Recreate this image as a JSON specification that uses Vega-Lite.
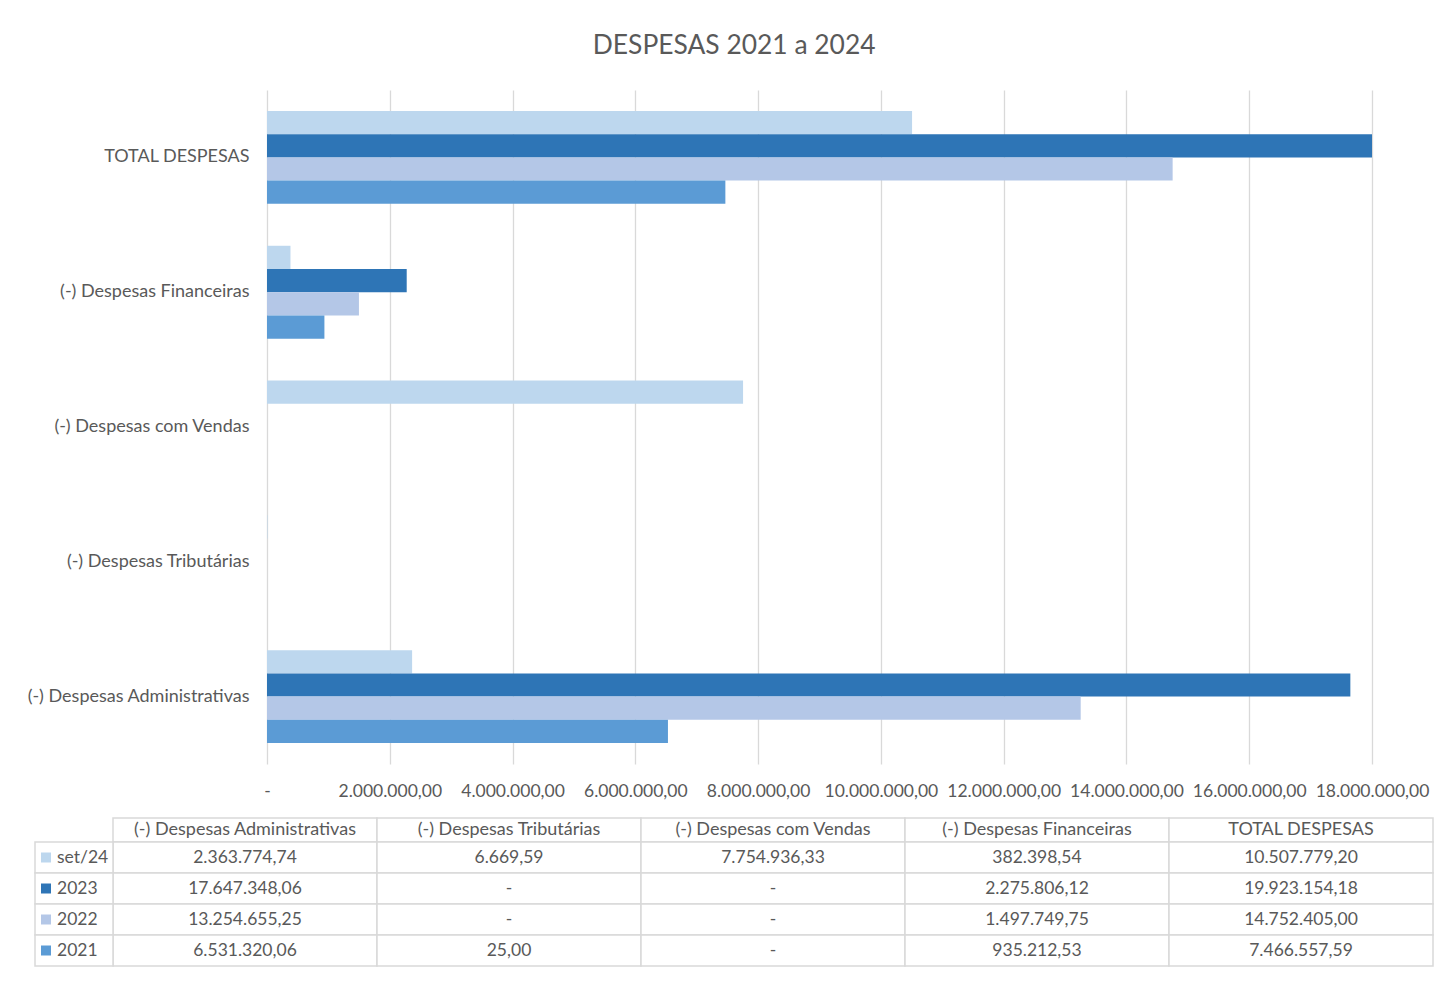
{
  "$schema": "https://vega.github.io/schema/vega-lite/v6.json",
  "padding": {"left": 26, "top": 33, "right": 5, "bottom": 19},
  "background": "white",
  "title": {"text": "DESPESAS 2021 a 2024", "fontSize": 26.4, "font": "Lato", "fontWeight": "normal", "color": "#595959", "anchor": "middle", "offset": 30.5, "dx": 4},
  "datasets": {
    "despesas": [
      {"categoria": "(-) Despesas Administrativas", "serie": "set/24", "valor": 2363774.74},
      {"categoria": "(-) Despesas Administrativas", "serie": "2023", "valor": 17647348.06},
      {"categoria": "(-) Despesas Administrativas", "serie": "2022", "valor": 13254655.25},
      {"categoria": "(-) Despesas Administrativas", "serie": "2021", "valor": 6531320.06},
      {"categoria": "(-) Despesas Tributárias", "serie": "set/24", "valor": 6669.59},
      {"categoria": "(-) Despesas Tributárias", "serie": "2023", "valor": 0},
      {"categoria": "(-) Despesas Tributárias", "serie": "2022", "valor": 0},
      {"categoria": "(-) Despesas Tributárias", "serie": "2021", "valor": 25.00},
      {"categoria": "(-) Despesas com Vendas", "serie": "set/24", "valor": 7754936.33},
      {"categoria": "(-) Despesas com Vendas", "serie": "2023", "valor": 0},
      {"categoria": "(-) Despesas com Vendas", "serie": "2022", "valor": 0},
      {"categoria": "(-) Despesas com Vendas", "serie": "2021", "valor": 0},
      {"categoria": "(-) Despesas Financeiras", "serie": "set/24", "valor": 382398.54},
      {"categoria": "(-) Despesas Financeiras", "serie": "2023", "valor": 2275806.12},
      {"categoria": "(-) Despesas Financeiras", "serie": "2022", "valor": 1497749.75},
      {"categoria": "(-) Despesas Financeiras", "serie": "2021", "valor": 935212.53},
      {"categoria": "TOTAL DESPESAS", "serie": "set/24", "valor": 10507779.20},
      {"categoria": "TOTAL DESPESAS", "serie": "2023", "valor": 19923154.18},
      {"categoria": "TOTAL DESPESAS", "serie": "2022", "valor": 14752405.00},
      {"categoria": "TOTAL DESPESAS", "serie": "2021", "valor": 7466557.59}
    ]
  },
  "spacing": 17,
  "vconcat": [
    {
      "width": 1105,
      "height": 674,
      "data": {"name": "despesas"},
      "mark": {"type": "bar", "clip": true},
      "encoding": {
        "y": {
          "field": "categoria", "type": "nominal",
          "scale": {"domain": ["TOTAL DESPESAS", "(-) Despesas Financeiras", "(-) Despesas com Vendas", "(-) Despesas Tributárias", "(-) Despesas Administrativas"], "paddingInner": 0.311, "paddingOuter": 0.1555},
          "axis": {"title": null, "ticks": false, "tickSize": 0, "domain": false, "labelPadding": 18, "labelFontSize": 18, "labelColor": "#595959", "labelFont": "Lato", "labelLimit": 400}
        },
        "yOffset": {
          "field": "serie", "type": "nominal",
          "scale": {"domain": ["set/24", "2023", "2022", "2021"], "paddingInner": 0, "paddingOuter": 0}
        },
        "x": {
          "field": "valor", "type": "quantitative",
          "scale": {"domain": [0, 18000000], "nice": false, "zero": true},
          "axis": {
            "title": null, "values": [0, 2000000, 4000000, 6000000, 8000000, 10000000, 12000000, 14000000, 16000000, 18000000],
            "format": ",.2f", "labelExpr": "datum.value == 0 ? '-' : datum.label",
            "grid": true, "gridColor": "#D9D9D9", "gridWidth": 1.3, "domain": false, "ticks": false, "tickSize": 0,
            "labelPadding": 18, "labelFontSize": 17.5, "labelColor": "#595959", "labelFont": "Lato", "labelFlush": false, "labelOverlap": false
          }
        },
        "color": {
          "field": "serie", "type": "nominal",
          "scale": {"domain": ["set/24", "2023", "2022", "2021"], "range": ["#BDD7EE", "#2E75B6", "#B4C7E7", "#5B9BD5"]},
          "legend": null
        }
      }
    },
    {
      "width": 1166,
      "height": 148,
      "data": {"name": "despesas"},
      "resolve": {"scale": {"x": "independent", "y": "independent"}},
      "layer": [
        {
          "transform": [{"filter": "datum.serie == '2021'"}],
          "encoding": {
            "x": {"field": "categoria", "type": "nominal", "scale": {"domain": ["(-) Despesas Administrativas", "(-) Despesas Tributárias", "(-) Despesas com Vendas", "(-) Despesas Financeiras", "TOTAL DESPESAS"], "range": [-154, 1166], "paddingInner": 0, "paddingOuter": 0}, "axis": null},
            "y": {"datum": "cabeçalho", "type": "nominal", "scale": {"domain": ["cabeçalho"], "range": [0, 24], "paddingInner": 0, "paddingOuter": 0}, "axis": null}
          },
          "layer": [
            {"mark": {"type": "rect", "fill": "white", "stroke": "#D9D9D9", "strokeWidth": 1.5}},
            {"mark": {"type": "text", "font": "Lato", "fontSize": 18, "color": "#595959"}, "encoding": {"text": {"field": "categoria", "type": "nominal"}}}
          ]
        },
        {
          "encoding": {
            "x": {"field": "categoria", "type": "nominal", "scale": {"domain": ["(-) Despesas Administrativas", "(-) Despesas Tributárias", "(-) Despesas com Vendas", "(-) Despesas Financeiras", "TOTAL DESPESAS"], "range": [-154, 1166], "paddingInner": 0, "paddingOuter": 0}, "axis": null},
            "y": {"field": "serie", "type": "nominal", "scale": {"domain": ["set/24", "2023", "2022", "2021"], "range": [24, 148], "paddingInner": 0, "paddingOuter": 0}, "axis": null}
          },
          "layer": [
            {"mark": {"type": "rect", "fill": "white", "stroke": "#D9D9D9", "strokeWidth": 1.5}},
            {"mark": {"type": "text", "font": "Lato", "fontSize": 17.5, "color": "#595959"},
             "encoding": {"text": {"condition": {"test": "datum.valor == 0", "value": "-"}, "field": "valor", "type": "quantitative", "format": ",.2f"}}}
          ]
        },
        {
          "transform": [{"filter": "datum.categoria == 'TOTAL DESPESAS'"}],
          "encoding": {
            "y": {"field": "serie", "type": "nominal", "scale": {"domain": ["set/24", "2023", "2022", "2021"], "range": [24, 148], "paddingInner": 0, "paddingOuter": 0}, "axis": null}
          },
          "layer": [
            {"mark": {"type": "rect", "fill": "white", "stroke": "#D9D9D9", "strokeWidth": 1.5},
             "encoding": {"x": {"datum": 0, "type": "quantitative", "scale": {"domain": [0, 1], "range": [-232, -154], "nice": false, "zero": false}, "axis": null}, "x2": {"datum": 1}}},
            {"mark": {"type": "point", "shape": "square", "filled": true, "size": 100, "opacity": 1, "xOffset": 11},
             "encoding": {"x": {"datum": 0, "type": "quantitative"}, "color": {"field": "serie", "type": "nominal", "legend": null}}},
            {"mark": {"type": "text", "align": "left", "dx": 22, "font": "Lato", "fontSize": 17.5, "color": "#595959"},
             "encoding": {"x": {"datum": 0, "type": "quantitative"}, "text": {"field": "serie", "type": "nominal"}}}
          ]
        }
      ]
    }
  ],
  "config": {
    "view": {"stroke": null},
    "font": "Lato",
    "locale": {"number": {"decimal": ",", "thousands": ".", "grouping": [3], "currency": ["R$ ", ""]}}
  }
}
